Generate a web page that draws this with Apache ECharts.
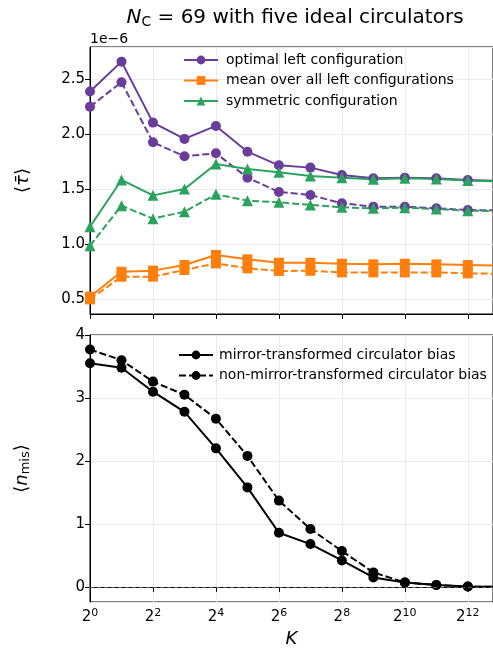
<!DOCTYPE html>
<html>
<head>
<meta charset="utf-8">
<script src="https://cdn.jsdelivr.net/npm/echarts@6/dist/echarts.min.js"></script>
<style>
  html, body { margin: 0; padding: 0; background: #fff; }
  #chart { width: 493px; height: 651px; }
</style>
</head>
<body>
<div id="chart"></div>
<script>
// K values (powers of two)
var K = [1, 2, 4, 8, 16, 32, 64, 128, 256, 512, 1024, 2048, 4096, 8192];

// top panel, <tau> in units of 1e-6
var optimalSolid = [2.385, 2.657, 2.103, 1.955, 2.073, 1.839, 1.715, 1.694, 1.627, 1.597, 1.603, 1.597, 1.582, 1.572];
var optimalDashed = [2.248, 2.47, 1.924, 1.797, 1.824, 1.603, 1.473, 1.445, 1.37, 1.339, 1.339, 1.324, 1.309, 1.305];
var meanSolid = [0.521, 0.748, 0.758, 0.809, 0.9, 0.861, 0.83, 0.83, 0.821, 0.815, 0.821, 0.815, 0.809, 0.805];
var meanDashed = [0.497, 0.703, 0.703, 0.764, 0.824, 0.779, 0.755, 0.757, 0.742, 0.742, 0.742, 0.742, 0.733, 0.73];
var symSolid = [1.157, 1.582, 1.442, 1.5, 1.727, 1.682, 1.652, 1.618, 1.603, 1.588, 1.597, 1.59, 1.576, 1.57];
var symDashed = [0.985, 1.348, 1.23, 1.294, 1.451, 1.394, 1.379, 1.355, 1.333, 1.324, 1.33, 1.318, 1.303, 1.30];

// bottom panel, <n_mis>
var mirrorBias = [3.55, 3.48, 3.10, 2.78, 2.20, 1.58, 0.86, 0.68, 0.42, 0.15, 0.07, 0.03, 0.005, 0.0];
var nonMirrorBias = [3.77, 3.60, 3.26, 3.05, 2.67, 2.08, 1.37, 0.92, 0.57, 0.23, 0.07, 0.03, 0.005, 0.0];

var topNames = ['optimal left configuration', 'mean over all left configurations', 'symmetric configuration'];
var bottomNames = ['mirror-transformed circulator bias', 'non-mirror-transformed circulator bias'];

var font = 'DejaVu Sans';
var purple = '#6a3d9a';
var orange = '#ff7f0e';
var green = '#2ca25f';

function pairs(arr) {
  return K.map(function (k, i) { return [k, arr[i]]; });
}

function lineSeries(name, data, color, symbol, size, dashed, gridIdx) {
  return {
    name: name,
    type: 'line',
    xAxisIndex: gridIdx,
    yAxisIndex: gridIdx,
    data: pairs(data),
    symbol: symbol,
    symbolSize: size,
    showAllSymbol: true,
    animation: false,
    itemStyle: { color: color },
    lineStyle: { color: color, width: 2, type: dashed ? [7, 3] : 'solid' },
    z: dashed ? 3 : 4
  };
}

function xAxisOf(gridIdx, showLabels) {
  return {
    type: 'log',
    logBase: 4,
    gridIndex: gridIdx,
    min: 1,
    max: Math.pow(2, 12.8),
    axisLine: { lineStyle: { color: '#000', width: 1 } },
    axisTick: { show: true, inside: false, length: 5, lineStyle: { color: '#000' } },
    splitLine: { show: true, lineStyle: { color: '#ebebeb', width: 1 } },
    minorTick: { show: false },
    axisLabel: {
      show: showLabels,
      showMaxLabel: false,
      color: '#000',
      fontFamily: font,
      fontSize: 15,
      margin: 6,
      formatter: function (v) {
        return '2{s|' + Math.round(Math.log(v) / Math.log(2)) + '}';
      },
      rich: {
        s: { fontSize: 11, fontFamily: font, color: '#000', padding: [0, 0, 8, 0] }
      }
    },
    name: showLabels ? '{i|K}' : '',
    nameLocation: 'middle',
    nameGap: 28,
    nameTextStyle: {
      rich: { i: { fontSize: 18, fontStyle: 'italic', fontFamily: font, color: '#000' } }
    }
  };
}

var chart = echarts.init(document.getElementById('chart'));

var option = {
  backgroundColor: '#fff',
  textStyle: { fontFamily: font },
  title: {
    text: '{i|N}{sub|C}{r| = 69 with five ideal circulators}',
    left: 290,
    textAlign: 'center',
    top: 1,
    textStyle: {
      fontWeight: 'normal',
      rich: {
        i: { fontSize: 20, fontStyle: 'italic', fontWeight: 'normal', fontFamily: font, color: '#000' },
        sub: { fontSize: 14, fontWeight: 'normal', fontFamily: font, color: '#000', padding: [9, 0, 0, 0] },
        r: { fontSize: 20, fontWeight: 'normal', fontFamily: font, color: '#000' }
      }
    }
  },
  graphic: [{
    type: 'text',
    left: 90,
    top: 32,
    style: { text: '1e\u22126', fontSize: 14, fontFamily: font, fill: '#000' }
  }],
  grid: [
    { left: 90, right: 0, top: 47, height: 267, show: true, borderColor: '#000', borderWidth: 1 },
    { left: 90, right: 0, top: 335, height: 267, show: true, borderColor: '#000', borderWidth: 1 }
  ],
  legend: [
    {
      data: topNames,
      orient: 'vertical',
      left: 178,
      top: 48,
      itemWidth: 34,
      itemHeight: 11,
      itemGap: 6.5,
      textStyle: { fontSize: 14, fontFamily: font, color: '#000', padding: [0, 0, 0, 3] }
    },
    {
      data: bottomNames,
      orient: 'vertical',
      left: 173,
      top: 343,
      itemWidth: 34,
      itemHeight: 11,
      itemGap: 6.5,
      textStyle: { fontSize: 14, fontFamily: font, color: '#000', padding: [0, 0, 0, 1] }
    }
  ],
  xAxis: [xAxisOf(0, false), xAxisOf(1, true)],
  yAxis: [
    {
      type: 'value',
      gridIndex: 0,
      min: 0.364,
      max: 2.79,
      axisLine: { show: true, lineStyle: { color: '#000' } },
      axisTick: { show: true, length: 5, lineStyle: { color: '#000' } },
      splitLine: { show: true, lineStyle: { color: '#ebebeb' } },
      axisLabel: {
        showMinLabel: false,
        showMaxLabel: false,
        color: '#000',
        fontFamily: font,
        fontSize: 15,
        margin: 5,
        formatter: function (v) { return v.toFixed(1); }
      },
      name: '\u27e8{i|\u03c4\u0304}\u27e9',
      nameLocation: 'middle',
      nameRotate: 90,
      nameGap: 58,
      nameTextStyle: {
        fontSize: 18, fontFamily: font, color: '#000',
        rich: { i: { fontSize: 18, fontStyle: 'italic', fontFamily: font, color: '#000' } }
      }
    },
    {
      type: 'value',
      gridIndex: 1,
      min: -0.24,
      max: 4,
      axisLine: { show: true, lineStyle: { color: '#000' } },
      axisTick: { show: true, length: 5, lineStyle: { color: '#000' } },
      splitLine: { show: true, lineStyle: { color: '#ebebeb' } },
      axisLabel: {
        showMinLabel: false,
        color: '#000',
        fontFamily: font,
        fontSize: 15,
        margin: 5
      },
      name: '\u27e8{i|n}{s|mis}\u27e9',
      nameLocation: 'middle',
      nameRotate: 90,
      nameGap: 58,
      nameTextStyle: {
        fontSize: 18, fontFamily: font, color: '#000',
        rich: {
          i: { fontSize: 18, fontStyle: 'italic', fontFamily: font, color: '#000' },
          s: { fontSize: 13, fontFamily: font, color: '#000', padding: [7, 0, 0, 0] }
        }
      }
    }
  ],
  series: [
    lineSeries(topNames[0], optimalSolid, purple, 'circle', 10, false, 0),
    lineSeries(topNames[0] + ' ', optimalDashed, purple, 'circle', 10, true, 0),
    lineSeries(topNames[1], meanSolid, orange, 'rect', 10, false, 0),
    lineSeries(topNames[1] + ' ', meanDashed, orange, 'rect', 10, true, 0),
    lineSeries(topNames[2], symSolid, green, 'triangle', 11, false, 0),
    lineSeries(topNames[2] + ' ', symDashed, green, 'triangle', 11, true, 0),
    lineSeries(bottomNames[0], mirrorBias, '#000', 'circle', 10, false, 1),
    lineSeries(bottomNames[1], nonMirrorBias, '#000', 'circle', 10, true, 1)
  ]
};

option.series[6].markLine = {
  silent: true,
  symbol: 'none',
  animation: false,
  label: { show: false },
  lineStyle: { color: '#555', width: 1, type: [4, 3] },
  data: [{ yAxis: 0 }]
};

chart.setOption(option);
</script>
</body>
</html>
